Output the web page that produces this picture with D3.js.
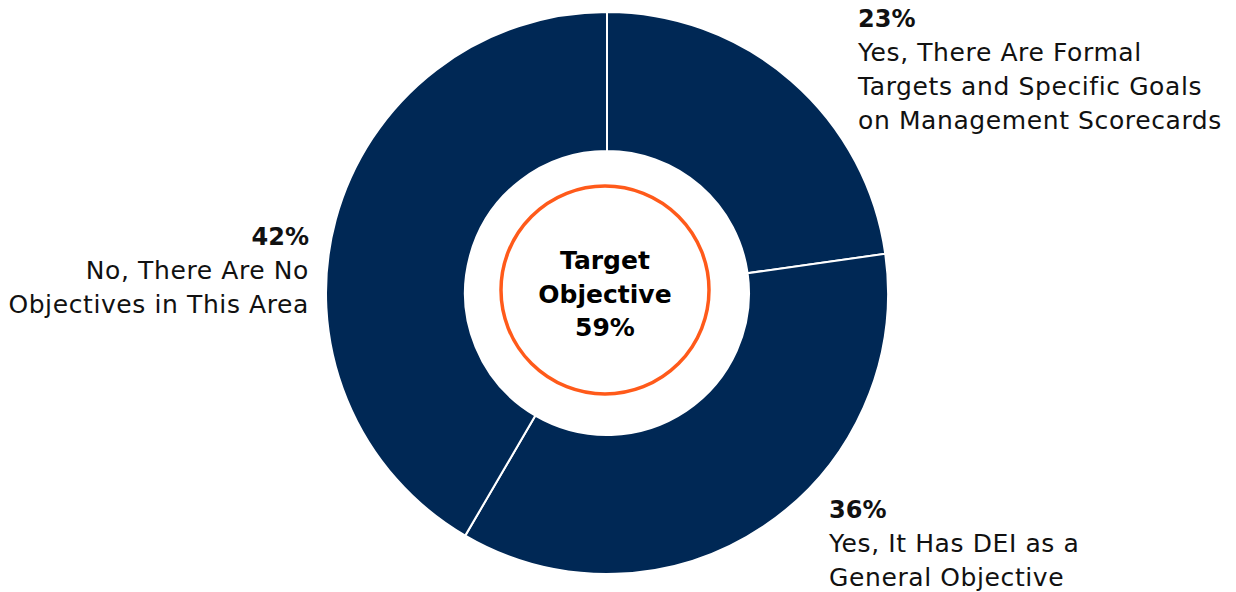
<!DOCTYPE html>
<html><head><meta charset="utf-8">
<script src="https://cdn.jsdelivr.net/npm/d3@7"></script>
<style>html,body{margin:0;padding:0;background:#fff;}svg{display:block;}</style>
</head><body>
<svg id="chart" width="1236" height="592"></svg>
<script>
const categories = [
  "Yes, There Are Formal Targets and Specific Goals on Management Scorecards",
  "Yes, It Has DEI as a General Objective",
  "No, There Are No Objectives in This Area"
];
const values = [23, 36, 42];
const labelLines = [
  ["Yes, There Are Formal", "Targets and Specific Goals", "on Management Scorecards"],
  ["Yes, It Has DEI as a", "General Objective"],
  ["No, There Are No", "Objectives in This Area"]
];
const centerLines = ["Target", "Objective", "59%"];

const svg = d3.select("#chart");
const cx = 607, cy = 293, R = 281, r = 142;
const font = "'DejaVu Sans', sans-serif";

const pie = d3.pie().sort(null).value(d => d);
const arc = d3.arc().innerRadius(r).outerRadius(R);
const g = svg.append("g").attr("transform", `translate(${cx},${cy})`);
g.selectAll("path").data(pie(values)).join("path")
  .attr("d", arc).attr("fill", "#002855")
  .attr("stroke", "#fff").attr("stroke-width", 2);

svg.append("circle").attr("cx", 605).attr("cy", 290).attr("r", 104)
  .attr("fill", "none").attr("stroke", "#FF5A1A").attr("stroke-width", 3.5);

const ct = svg.append("text").attr("text-anchor", "middle")
  .attr("font-family", font).attr("font-weight", 700).attr("font-size", 25).attr("fill", "#000");
centerLines.forEach((t, i) => ct.append("tspan").attr("x", 605).attr("y", 269 + i * 33.5).text(t));

const pos = [
  {x: 858, y: 27, anchor: "start"},
  {x: 829, y: 518, anchor: "start"},
  {x: 309, y: 245, anchor: "end"}
];
pie(values).forEach((d, i) => {
  const p = pos[i];
  const t = svg.append("text").attr("text-anchor", p.anchor)
    .attr("font-family", font).attr("font-size", 25).attr("fill", "#111");
  t.append("tspan").attr("x", p.x).attr("y", p.y).attr("font-weight", 700)
    .attr("font-size", 24).text(d.data + "%");
  labelLines[i].forEach((l, j) => t.append("tspan").attr("x", p.x).attr("y", p.y + 34 * (j + 1))
    .attr("letter-spacing", 0.6).text(l));
});
</script>
</body></html>
